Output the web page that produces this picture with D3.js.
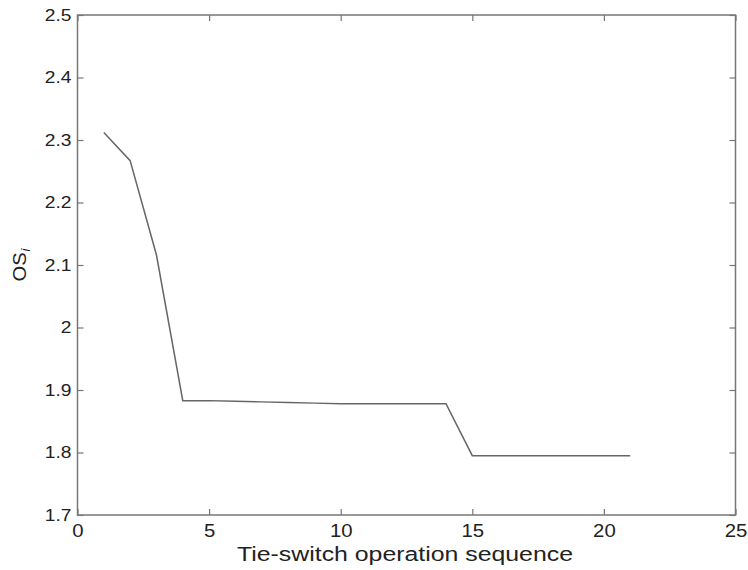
<!DOCTYPE html>
<html>
<head>
<meta charset="utf-8">
<script src="https://cdn.jsdelivr.net/npm/d3@7"></script>
<style>
  html, body { margin: 0; padding: 0; background: #fff; }
  svg { display: block; }
  text { font-family: "Liberation Sans", Arial, sans-serif; fill: #222; }
</style>
</head>
<body>
<svg id="chart" width="748" height="570"></svg>
<script>
const sequence = [1,2,3,4,5,6,7,8,9,10,11,12,13,14,15,16,17,18,19,20,21];
const osValues = [2.312,2.267,2.116,1.883,1.883,1.882,1.881,1.880,1.879,1.878,1.878,1.878,1.878,1.878,1.795,1.795,1.795,1.795,1.795,1.795,1.795];
const xTicks = [0,5,10,15,20,25];
const yTicks = [1.7,1.8,1.9,2.0,2.1,2.2,2.3,2.4,2.5];
const xLabel = "Tie-switch operation sequence";

const margin = {left: 77.5, right: 12.5, top: 15, bottom: 55};
const W = 748, H = 570;
const svg = d3.select("#chart");
const x = d3.scaleLinear().domain([0,25]).range([margin.left, W - margin.right]);
const y = d3.scaleLinear().domain([1.7,2.5]).range([H - margin.bottom, margin.top]);

const axisColor = "#777";
const tickLen = 6;
const stretch = 1.13;
function widen(sel, factor) {
  sel.each(function() {
    const len = this.getComputedTextLength();
    d3.select(this).attr("textLength", len * factor).attr("lengthAdjust", "spacingAndGlyphs");
  });
}

// frame
svg.append("rect")
  .attr("x", x(0)).attr("y", y(2.5))
  .attr("width", x(25) - x(0)).attr("height", y(1.7) - y(2.5))
  .attr("fill", "none").attr("stroke", axisColor).attr("stroke-width", 1.5);

const fmtY = d => (Math.abs(d - 2) < 1e-9 ? "2" : d3.format(".1f")(d));

// bottom axis
const gx = svg.append("g").attr("transform", `translate(0,${y(1.7)})`)
  .call(d3.axisBottom(x).tickValues(xTicks).tickSize(-tickLen).tickPadding(6).tickFormat(d3.format("d")));
gx.select(".domain").remove();
gx.selectAll(".tick line").attr("stroke", axisColor).attr("stroke-width", 1.2);
gx.selectAll(".tick text").style("font-size", "18px").attr("fill", "#222").attr("dy", "0.9em");
widen(gx.selectAll(".tick text"), stretch);

// top ticks
const gxt = svg.append("g").attr("transform", `translate(0,${y(2.5)})`)
  .call(d3.axisTop(x).tickValues(xTicks).tickSize(-tickLen).tickFormat(""));
gxt.select(".domain").remove();
gxt.selectAll(".tick line").attr("stroke", axisColor).attr("stroke-width", 1.2);

// left axis
const gy = svg.append("g").attr("transform", `translate(${x(0)},0)`)
  .call(d3.axisLeft(y).tickValues(yTicks).tickSize(-tickLen).tickPadding(6).tickFormat(fmtY));
gy.select(".domain").remove();
gy.selectAll(".tick line").attr("stroke", axisColor).attr("stroke-width", 1.2);
gy.selectAll(".tick text").style("font-size", "17px").attr("fill", "#222");
widen(gy.selectAll(".tick text"), stretch);

// right ticks
const gyr = svg.append("g").attr("transform", `translate(${x(25)},0)`)
  .call(d3.axisRight(y).tickValues(yTicks).tickSize(-tickLen).tickFormat(""));
gyr.select(".domain").remove();
gyr.selectAll(".tick line").attr("stroke", axisColor).attr("stroke-width", 1.2);

// line
const data = sequence.map((s, i) => ({s, v: osValues[i]}));
svg.append("path").datum(data)
  .attr("fill", "none").attr("stroke", "#666").attr("stroke-width", 1.5)
  .attr("d", d3.line().x(d => x(d.s)).y(d => y(d.v)));

// x label
const xl = svg.append("text")
  .attr("x", 405).attr("y", 561)
  .attr("text-anchor", "middle")
  .style("font-size", "20px")
  .text(xLabel);
xl.attr("textLength", 336).attr("lengthAdjust", "spacingAndGlyphs");

// y label
const yl = svg.append("text")
  .attr("transform", `translate(26,${265}) rotate(-90)`)
  .attr("text-anchor", "middle")
  .style("font-size", "18px");
const os = yl.append("tspan").text("OS");
widen(os, 1.12);
yl.append("tspan").attr("dy", "0.3em").attr("dx", "1").style("font-size", "13px").style("font-style", "italic").text("i");
</script>
</body>
</html>
